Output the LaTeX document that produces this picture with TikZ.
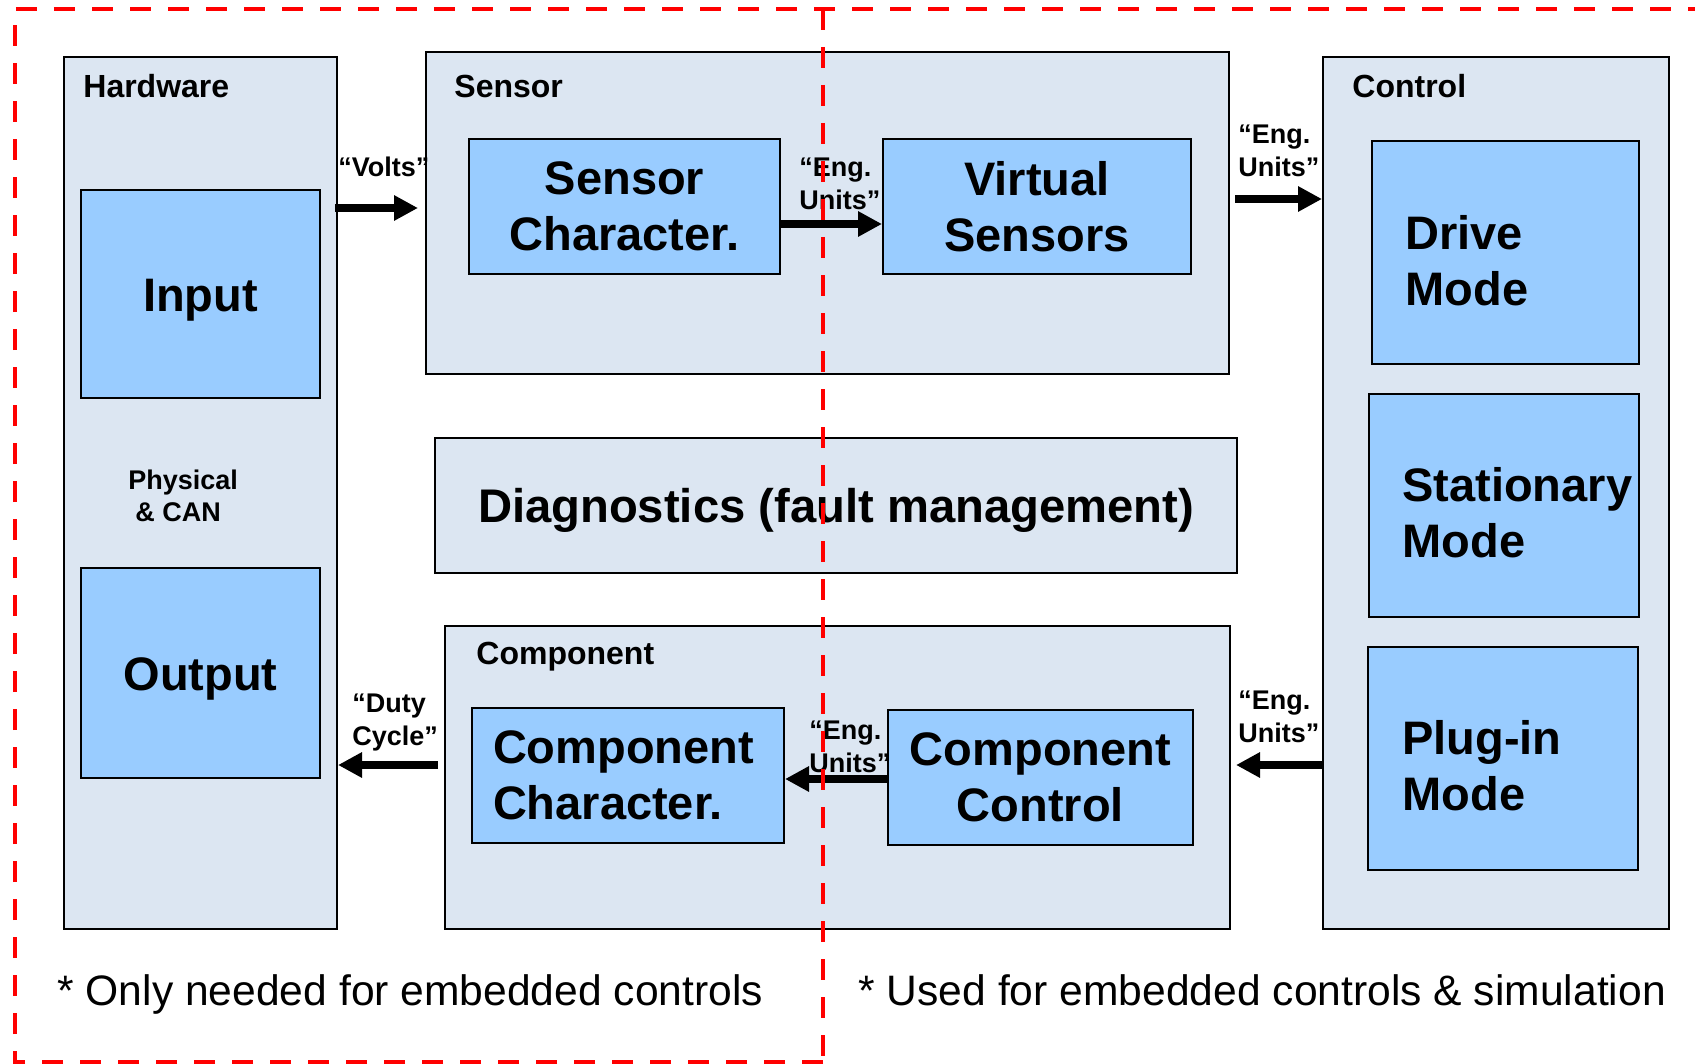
\documentclass[tikz,border=0pt]{standalone}
\usepackage{fontspec}
\setmainfont{Liberation Sans}
\usetikzlibrary{arrows.meta}
\definecolor{grpfill}{HTML}{DCE6F2}
\definecolor{blkfill}{HTML}{99CCFF}
\definecolor{dashred}{HTML}{FF0000}
\begin{document}
\begin{tikzpicture}[x=0.5pt,y=-0.5pt,
  grp/.style={draw=black, line width=1pt, fill=grpfill, inner sep=0pt, anchor=north west},
  blk/.style={draw=black, line width=1pt, fill=blkfill, inner sep=0pt, anchor=north west,
    align=center, font=\fontsize{23.5}{28.2}\selectfont\bfseries},
  oneline/.style={text height=17pt, text depth=0pt},
  bigtxt/.style={inner sep=0pt, anchor=west, align=left, font=\fontsize{23.5}{28.2}\selectfont\bfseries},
  grplabel/.style={inner sep=0pt, anchor=west, font=\fontsize{16}{19.2}\selectfont\bfseries},
  arrlabel/.style={inner sep=0pt, anchor=west, align=left, font=\fontsize{13.5}{16.2}\selectfont\bfseries},
  note/.style={inner sep=0pt, anchor=base west, font=\fontsize{21.3}{25.6}\selectfont},
  arr/.style={line width=4pt, -{Triangle[length=12pt,width=12pt]}},
  reddash/.style={draw=dashred, line width=2pt, dash pattern=on 10.5pt off 8.5pt}]
\useasboundingbox (0,0) rectangle (1695,1064);

% group boxes
\node[grp, minimum width=136.5pt, minimum height=436pt] (hw) at (63,56) {};
\node[grp, minimum width=401.5pt, minimum height=161pt] (sensor) at (425,51) {};
\node[grp, minimum width=173pt, minimum height=436pt] (ctrl) at (1322,56) {};
\node[grp, minimum width=392.5pt, minimum height=151.5pt] (comp) at (444,625) {};
\node[grp, oneline, minimum width=401pt, minimum height=67.5pt, align=center,
  font=\fontsize{23.6}{28.2}\selectfont\bfseries] (diag) at (434,437) {Diagnostics (fault management)};

% group labels
\node[grplabel] (hwl) at (83,86) {Hardware};
\node[grplabel] (sensl) at (454,86) {Sensor};
\node[grplabel] (ctrll) at (1352,86) {Control};
\node[grplabel] (compl) at (476,657) {Component};
\node[arrlabel] (phys) at (128,496) {Physical\\\hspace*{3.5pt}\& CAN};

% blue blocks
\node[blk, oneline, minimum width=119.5pt, minimum height=104pt] (input) at (80,189) {Input};
\node[blk, oneline, minimum width=119.5pt, minimum height=105pt] (output) at (80,567) {Output};
\node[blk, minimum width=155.5pt, minimum height=67.5pt] (schar) at (468,138) {Sensor\\Character.};
\node[blk, minimum width=154pt, minimum height=67.5pt] (virt) at (882,138) {Virtual\\Sensors};
\node[blk, minimum width=156pt, minimum height=67.5pt, align=left, text width=135pt] (cchar) at (471,707) {Component\\Character.};
\node[blk, minimum width=152.5pt, minimum height=67.5pt] (cctrl) at (887,709) {Component\\Control};
\node[blk, minimum width=133.5pt, minimum height=111.5pt] (drive) at (1371,140) {};
\node[blk, minimum width=135pt, minimum height=111.5pt] (stat) at (1368,393) {};
\node[blk, minimum width=135pt, minimum height=111.5pt] (plug) at (1367,646) {};
\node[bigtxt] (drivet) at (1405,260.5) {Drive\\Mode};
\node[bigtxt] (statt) at (1402,512.5) {Stationary\\Mode};
\node[bigtxt] (plugt) at (1402,765.5) {Plug-in\\Mode};

% arrow levels
\coordinate (yv) at (0,208);
\coordinate (ys) at (0,224);
\coordinate (yt) at (0,199);
\coordinate (yb) at (0,765);
\coordinate (yc) at (0,779);

\draw[arr, shorten <=-1.5pt, shorten >=3.5pt] (hw.east |- yv) -- (sensor.west |- yv);
\draw[arr] (schar.east |- ys) -- (virt.west |- ys);
\draw[arr, shorten <=2.5pt] (sensor.east |- yt) -- (ctrl.west |- yt);
\draw[arr, shorten >=2.5pt] (ctrl.west |- yb) -- (comp.east |- yb);
\draw[arr] (cctrl.west |- yc) -- (cchar.east |- yc);
\draw[arr, shorten <=3pt] (comp.west |- yb) -- (hw.east |- yb);

% arrow labels
\node[arrlabel] (lv) at (338,167) {“Volts”};
\node[arrlabel] (ls) at (799,184) {“Eng.\\Units”};
\node[arrlabel] (lt) at (1238,151) {“Eng.\\Units”};
\node[arrlabel] (lb) at (1238,717) {“Eng.\\Units”};
\node[arrlabel] (lc) at (809,747) {“Eng.\\Units”};
\node[arrlabel] (ld) at (352,722.5) {“Duty\\Cycle”};

% footnotes
\node[note] (n1) at (57,1005.5) {* Only needed for embedded controls};
\node[note] (n2) at (858,1005.5) {* Used for embedded controls \& simulation};

% red dashed frames
\draw[reddash] (823,1062) -- (15,1062) -- (15,9) -- (1695,9);
\draw[reddash] (823,9) -- (823,1064);
\end{tikzpicture}
\end{document}
